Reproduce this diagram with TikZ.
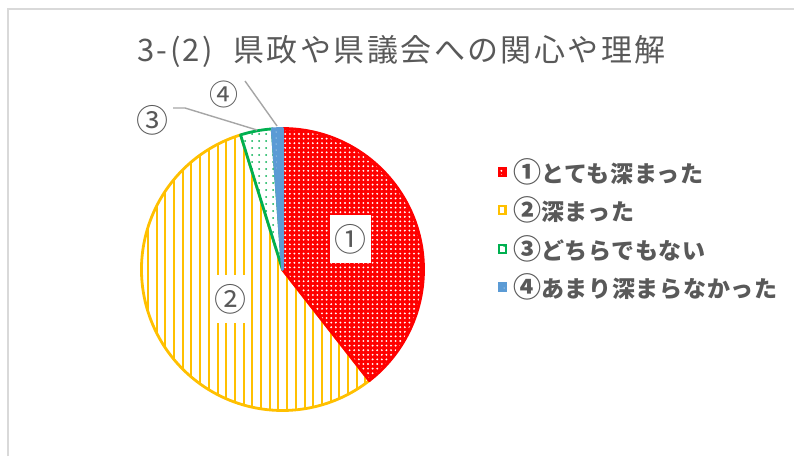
\documentclass[tikz,border=0pt]{standalone}
\usepackage{fontspec}
\newfontfamily\jptitle[LetterSpace=8]{Noto Sans CJK JP}
\newfontfamily\jpleg[LetterSpace=3]{Noto Sans CJK JP}
\newfontfamily\jplab{Noto Sans CJK JP}
\usetikzlibrary{patterns.meta}
\definecolor{txt}{HTML}{595959}
\definecolor{cr}{HTML}{FF0000}
\definecolor{cy}{HTML}{FFC000}
\definecolor{cg}{HTML}{00B050}
\definecolor{cb}{HTML}{5B9BD5}
\definecolor{frm}{HTML}{D9D9D9}
\definecolor{lead}{HTML}{A6A6A6}
\newcommand\bigc[1]{{\fontsize{28}{26}\selectfont #1}}
\tikzset{
  rslice/.style={preaction={fill=cr}, pattern={Dots[distance=4.6pt,radius=1.05pt]}, pattern color=white, draw=cr},
  yslice/.style={preaction={fill=white}, pattern={Lines[angle=90,distance=8.7pt,line width=2pt]}, pattern color=cy, draw=cy},
  gslice/.style={preaction={fill=white}, pattern={Dots[distance=7pt,radius=1pt]}, pattern color=cg, draw=cg},
  bslice/.style={preaction={fill=cb}, pattern={Dots[distance=6pt,radius=0.5pt]}, pattern color=white, draw=cb},
  pie/.style={line width=2.8pt, line join=round},
  lgbox/.style={minimum size=7.5pt, inner sep=0pt, line width=1.6pt},
  lgtext/.style={anchor=west, inner sep=0pt, text=txt, font=\jpleg\bfseries\fontsize{23}{26}\selectfont},
  plabel/.style={text=txt, font=\jplab\fontsize{32}{34}\selectfont, inner sep=0pt},
  pbox/.style={fill=white, plabel},
  leader/.style={draw=lead, line width=1.4pt},
  frame/.style={draw=frm, line width=2pt}
}
\begin{document}
\begin{tikzpicture}[x=1pt,y=1pt]
\useasboundingbox (0,0) rectangle (794,456);
\fill[white] (0,0) rectangle (794,456);
\draw[frame] (8,0) -- (8,447) -- (794,447);

\node[text=txt, font=\jptitle\fontsize{31}{34}\selectfont, inner sep=0pt] (title) at (401.5,405) {3-(2)\hspace{20pt}県政や県議会への関心や理解};

\coordinate (C) at (282.5,186.5);
\def\R{141pt}
\path[pie, yslice] (C) -- ++(107.3:\R) arc[start angle=107.3, end angle=308, radius=\R] -- cycle;
\path[pie, rslice] (C) -- ++(90:\R) arc[start angle=90, end angle=-52, radius=\R] -- cycle;
\path[pie, gslice] (C) -- ++(94.2:\R) arc[start angle=94.2, end angle=107.3, radius=\R] -- cycle;
\path[pie, bslice] (C) -- ++(90:\R) arc[start angle=90, end angle=94.2, radius=\R] -- cycle;

\node[pbox, minimum width=41pt, minimum height=48pt] (l1) at (350.5,217) {①};
\node[pbox, minimum width=37pt, minimum height=48pt] (l2) at (230.5,157) {②};
\node[plabel] (l3) at (152.5,336) {③};
\node[plabel, font=\jplab\fontsize{29}{30}\selectfont] (l4) at (223.5,362) {④};

\coordinate (p3a) at (173,348);
\coordinate (p3b) at (185,348);
\coordinate (p3c) at (257,326);
\draw[leader] (p3a) -- (p3b) -- (p3c);
\coordinate (p4a) at (245,375);
\coordinate (p4b) at (277,330);
\draw[leader] (p4a) -- (p4b);

\node[lgbox, rslice] (k1) at (502.5,284) {};
\node[lgbox, yslice] (k2) at (502.5,246) {};
\node[lgbox, gslice] (k3) at (502.5,207) {};
\node[lgbox, bslice] (k4) at (502.5,169) {};
\node[lgtext] (t1) at (513,284) {\bigc{①}とても深まった};
\node[lgtext] (t2) at (513,246) {\bigc{②}深まった};
\node[lgtext] (t3) at (513,207) {\bigc{③}どちらでもない};
\node[lgtext] (t4) at (513,169) {\bigc{④}あまり深まらなかった};
\end{tikzpicture}
\end{document}
